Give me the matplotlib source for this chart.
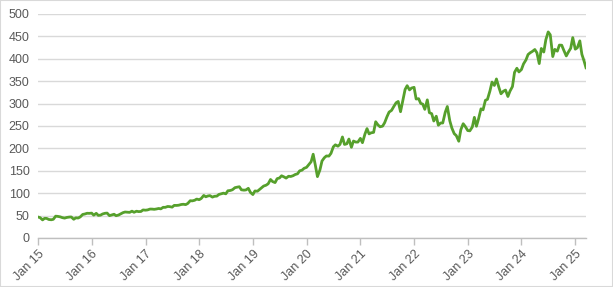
import numpy as np
import pandas as pd
import matplotlib
matplotlib.use('Agg')
import matplotlib.pyplot as plt
import matplotlib.dates as mdates
from matplotlib.patches import Rectangle

# =============================================================================
# DATA  (price read off the chart, sampled on the 1st and 15th of each month)
# =============================================================================

v2015 = [46.8, 45.5, 40.4, 43.9, 43.7, 41.4, 40.7, 41.7, 48.7, 48.3, 47.2, 45.5,
         44.4, 45.8, 46.7, 47.0, 41.8, 45.0, 44.6, 47.0, 52.6, 53.5, 55.2, 55.0]
v2016 = [55.5, 51.0, 55.1, 50.5, 51.0, 53.6, 55.2, 55.6, 49.9, 51.4, 53.0, 49.8,
         51.2, 53.7, 56.6, 58.0, 57.6, 57.2, 59.9, 57.4, 59.8, 58.9, 59.2, 62.6]
v2017 = [62.1, 62.7, 64.6, 64.5, 64.0, 64.7, 65.9, 65.0, 68.5, 68.4, 70.4, 70.0,
         68.9, 72.8, 72.7, 73.2, 74.8, 75.3, 74.5, 77.0, 83.2, 82.9, 84.2, 86.9]
v2018 = [85.5, 88.3, 95.0, 92.0, 93.8, 94.6, 91.3, 93.1, 93.5, 97.2, 98.8, 100.1,
         98.6, 105.4, 106.1, 107.7, 112.3, 113.4, 114.4, 107.6, 106.8, 107.3, 110.9, 102.0]
v2019 = [97.0, 105.0, 104.4, 108.2, 112.0, 115.9, 117.9, 121.0, 130.6, 126.0, 123.7, 132.5,
         134.0, 138.9, 136.3, 133.7, 137.9, 137.3, 139.0, 141.6, 143.4, 149.9, 151.4, 155.5]
v2020 = [157.7, 163.2, 170.2, 187.0, 162.0, 137.0, 152.1, 171.9, 179.2, 183.2, 182.8, 188.9,
         203.5, 208.0, 205.0, 208.9, 225.5, 208.8, 210.3, 220.9, 202.5, 216.4, 214.1, 214.1]
v2021 = [222.4, 212.7, 232.0, 244.2, 232.4, 234.8, 235.8, 259.5, 252.2, 248.2, 249.7, 257.4,
         270.9, 281.0, 284.9, 292.9, 301.9, 304.8, 281.9, 304.2, 331.6, 340.0, 330.6, 334.7]
v2022 = [336.3, 310.2, 311.0, 300.5, 298.8, 287.2, 308.3, 279.8, 277.5, 261.1, 271.9, 251.8,
         256.8, 256.7, 280.7, 293.5, 261.5, 245.4, 232.9, 228.6, 216.0, 241.7, 255.1, 249.0]
v2023 = [239.8, 239.2, 247.8, 269.3, 249.4, 265.4, 288.3, 286.1, 307.3, 309.5, 328.4, 348.1,
         340.5, 355.0, 335.9, 321.9, 327.8, 330.2, 315.8, 327.7, 338.1, 369.7, 378.9, 370.7]
v2024 = [376.0, 388.5, 397.6, 409.5, 413.6, 416.4, 420.7, 413.6, 389.3, 423.1, 415.1, 442.6,
         460.0, 453.6, 405.0, 421.0, 417.1, 430.6, 430.3, 419.0, 406.4, 415.0, 423.5, 447.3]
v2025 = [421.5, 424.6, 440.0, 410.0, 396.0, 380.0]

prices = v2015 + v2016 + v2017 + v2018 + v2019 + v2020 + v2021 + v2022 + v2023 + v2024 + v2025
dates = pd.date_range('2015-01-01', periods=len(prices), freq='SMS')

Y_TICKS = np.arange(0, 501, 50)

# =============================================================================
# PLOT
# =============================================================================

plt.rcParams['font.family'] = ['Liberation Sans', 'DejaVu Sans']

fig = plt.figure(figsize=(6.13, 2.87), dpi=100)
ax = fig.add_axes([38 / 613, 1 - 238 / 287, 548 / 613, 224 / 287])

ax.plot(dates, prices, color='#56a02c', lw=2.0, solid_joinstyle='round')

ax.set_ylim(0, 500)
ax.set_xlim(dates[0], dates[-1])
ax.set_yticks(Y_TICKS)
ax.yaxis.grid(True, color='#d9d9d9', lw=1.0)
ax.set_axisbelow(True)

ax.xaxis.set_major_locator(mdates.YearLocator())
ax.xaxis.set_major_formatter(mdates.DateFormatter('%b %y'))

for s in ('top', 'right', 'left'):
    ax.spines[s].set_visible(False)
ax.spines['bottom'].set_color('#bfbfbf')
ax.spines['bottom'].set_linewidth(1.0)

ax.tick_params(axis='y', length=0, pad=6, labelsize=9, labelcolor='#595959')
ax.tick_params(axis='x', length=5, width=1.0, color='#bfbfbf', direction='out',
               labelsize=9, labelcolor='#595959', pad=2)
for lab in ax.get_xticklabels():
    lab.set_rotation(45)
    lab.set_ha('right')
    lab.set_va('top')
    lab.set_rotation_mode('anchor')

fig.patches.append(Rectangle((0, 0), 1, 1, transform=fig.transFigure,
                             fill=False, edgecolor='#d9d9d9', lw=1.5))

fig.savefig('out.png', dpi=100)
plt.close(fig)
